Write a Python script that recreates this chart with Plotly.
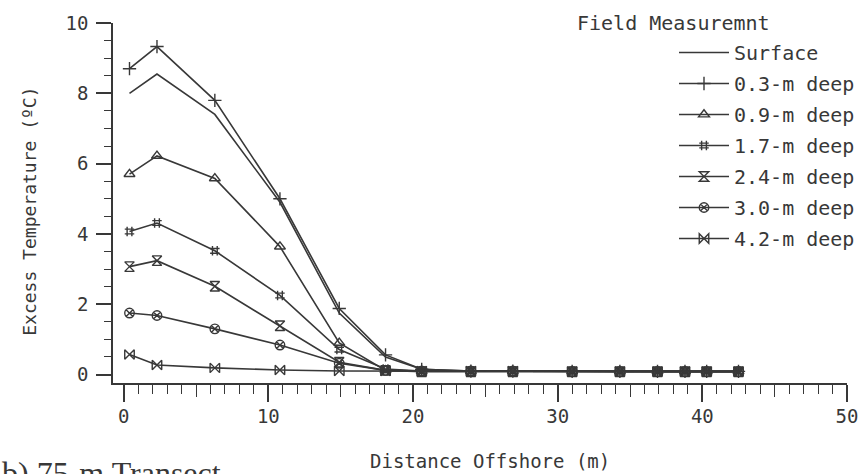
import plotly.graph_objects as go

# Distance offshore (m) of each sampling station along the transect
distance = [0.4, 2.3, 6.3, 10.8, 14.9, 18.1, 20.6, 24.0, 26.9, 31.0, 34.3, 36.9, 38.8, 40.3, 42.5]

# Excess temperature (deg C) at each depth
surface = [8.0, 8.55, 7.4, 4.9, 1.75, 0.5, 0.15, 0.1, 0.1, 0.08, 0.08, 0.08, 0.08, 0.08, 0.08]
deep_03 = [8.7, 9.33, 7.8, 5.0, 1.88, 0.56, 0.15, 0.1, 0.1, 0.09, 0.09, 0.09, 0.09, 0.09, 0.09]
deep_09 = [5.7, 6.22, 5.58, 3.64, 0.9, 0.12, 0.1, 0.1, 0.1, 0.09, 0.09, 0.09, 0.09, 0.09, 0.09]
deep_17 = [4.07, 4.31, 3.52, 2.25, 0.71, 0.16, 0.1, 0.1, 0.1, 0.09, 0.09, 0.09, 0.09, 0.09, 0.09]
deep_24 = [3.07, 3.24, 2.51, 1.39, 0.35, 0.12, 0.08, 0.08, 0.08, 0.08, 0.08, 0.08, 0.08, 0.08, 0.08]
deep_30 = [1.75, 1.68, 1.3, 0.84, 0.32, 0.12, 0.1, 0.1, 0.1, 0.09, 0.09, 0.09, 0.09, 0.09, 0.09]
deep_42 = [0.57, 0.27, 0.19, 0.13, 0.1, 0.1, 0.1, 0.1, 0.1, 0.09, 0.09, 0.09, 0.09, 0.09, 0.09]

series_names = ["Surface", "0.3-m deep", "0.9-m deep", "1.7-m deep",
                "2.4-m deep", "3.0-m deep", "4.2-m deep"]
series_values = [surface, deep_03, deep_09, deep_17, deep_24, deep_30, deep_42]
series_symbols = [None, "cross-thin-open", "triangle-up-open", "hash-open",
                  "hourglass-open", "circle-x-open", "bowtie-open"]

x_major_ticks = [0, 10, 20, 30, 40, 50]
x_mid_ticks = [5, 15, 25, 35, 45]
y_major_ticks = [0, 2, 4, 6, 8, 10]

INK = "#383838"
FONT = "DejaVu Sans Mono, Liberation Mono, monospace"

# plot-area geometry in pixels, used to place the free-standing labels
L, R, T, B = 113, 847, 23, 383.5
W_PX, H_PX = R - L, B - T


def px_x(px):
    return (px - L) / W_PX


def px_y(py):
    return (B - py) / H_PX


fig = go.Figure()

for i, (name, vals, sym) in enumerate(zip(series_names, series_values, series_symbols)):
    if sym is None:
        mode = "lines"
        marker = None
    else:
        mode = "lines+markers"
        marker = dict(symbol=sym, size=9.5, color=INK, line=dict(color=INK, width=1.4))
    fig.add_trace(go.Scatter(
        x=distance, y=vals, name=name, mode=mode, marker=marker,
        line=dict(color=INK, width=1.6), legendgroup=f"g{i}",
    ))

# empty trace that anchors the overlay axis carrying the mid ticks
fig.add_trace(go.Scatter(x=[], y=[], xaxis="x2", showlegend=False, hoverinfo="skip"))

axis_font = dict(family=FONT, size=19, color=INK)

fig.update_layout(
    width=863, height=474,
    margin=dict(l=L, r=863 - R, t=T, b=474 - B, pad=0, autoexpand=False),
    paper_bgcolor="white", plot_bgcolor="white",
    font=dict(family=FONT, color=INK),
    xaxis=dict(
        range=[-0.74, 50], showgrid=False, zeroline=False,
        showline=True, linecolor=INK, linewidth=1.5,
        tickmode="array", tickvals=x_major_ticks, ticks="outside",
        ticklen=17, tickwidth=1.5, tickcolor=INK, tickfont=axis_font,
        ticklabelstandoff=-2, automargin=False,
        minor=dict(dtick=1, tick0=0, ticks="outside", ticklen=9,
                   tickwidth=1.3, tickcolor=INK, showgrid=False),
    ),
    xaxis2=dict(
        overlaying="x", anchor="y", side="bottom", range=[-0.74, 50],
        showgrid=False, zeroline=False, showline=False, automargin=False,
        tickmode="array", tickvals=x_mid_ticks, ticks="outside",
        ticklen=13, tickwidth=1.3, tickcolor=INK, showticklabels=False,
    ),
    yaxis=dict(
        range=[-0.24, 10], showgrid=False, zeroline=False,
        showline=True, linecolor=INK, linewidth=1.5,
        tickmode="array", tickvals=y_major_ticks, ticks="outside",
        ticklen=15, tickwidth=1.5, tickcolor=INK, tickfont=axis_font,
        ticklabelstandoff=4, automargin=False,
        minor=dict(dtick=0.5, tick0=0, ticks="outside", ticklen=7,
                   tickwidth=1.3, tickcolor=INK, showgrid=False),
    ),
    legend=dict(
        x=px_x(674), xanchor="left", y=px_y(33), yanchor="top",
        bgcolor="rgba(0,0,0,0)", borderwidth=0,
        font=dict(family=FONT, size=20, color=INK),
        tracegroupgap=2, itemwidth=50,
    ),
    showlegend=True,
)

fig.add_annotation(
    text="Field Measuremnt", xref="paper", yref="paper",
    x=px_x(575), y=px_y(23), xanchor="left", yanchor="middle",
    showarrow=False, font=dict(family=FONT, size=20, color=INK),
)

fig.add_annotation(
    text="Distance Offshore (m)", xref="paper", yref="paper",
    x=px_x(490), y=px_y(462), xanchor="center", yanchor="middle",
    showarrow=False, font=dict(family=FONT, size=19, color=INK),
)

fig.add_annotation(
    text="Excess Temperature (ºC)", xref="paper", yref="paper",
    x=px_x(30), y=px_y(212), xanchor="center", yanchor="middle", textangle=-90,
    showarrow=False, font=dict(family=FONT, size=18, color=INK),
)

fig.add_annotation(
    text="b) 75-m Transect", xref="paper", yref="paper",
    x=px_x(0), y=px_y(454), xanchor="left", yanchor="top",
    showarrow=False, font=dict(family="Liberation Serif, serif", size=32, color=INK),
)

fig.write_html("out.html")
